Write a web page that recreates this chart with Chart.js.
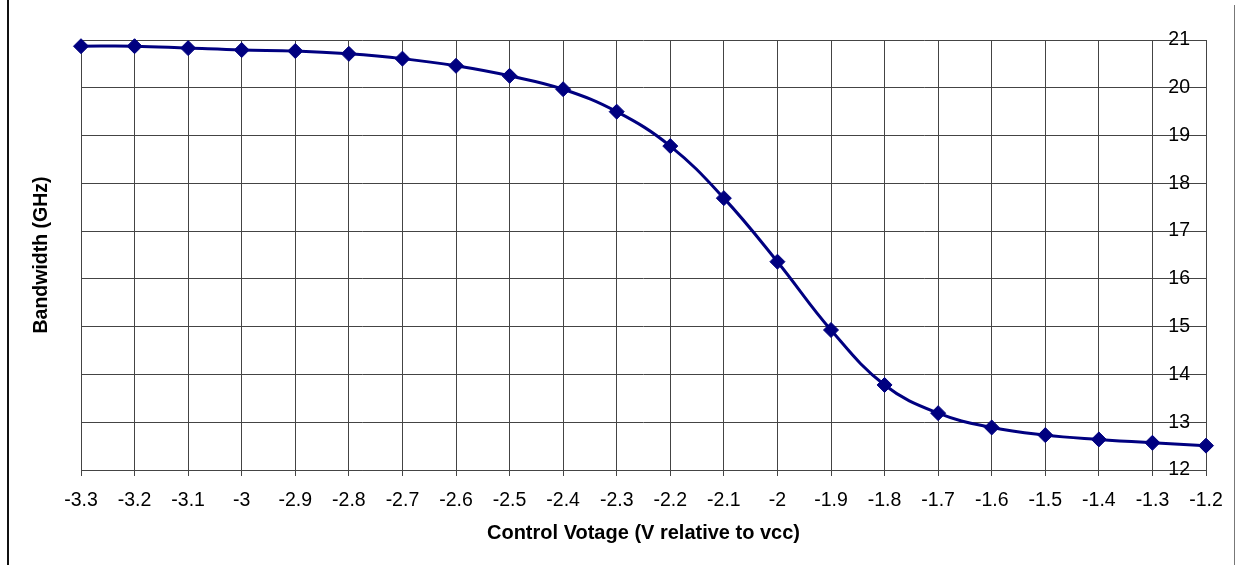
<!DOCTYPE html>
<html>
<head>
<meta charset="utf-8">
<script src="https://cdn.jsdelivr.net/npm/chart.js@4"></script>
<style>
    html, body { margin: 0; padding: 0; background: #fff; }
    #wrap { position: relative; width: 1236px; height: 565px; overflow: hidden; }
    #chart { position: absolute; left: 0; top: 0; }
    .edge-left { position: absolute; left: 7px; top: 0; width: 0; height: 565px; border-left: 2px solid #111; }
    .edge-right { position: absolute; left: 1234px; top: 5px; width: 0; height: 560px; border-left: 1px solid #777; }
</style>
</head>
<body>
<div id="wrap">
    <canvas id="chart" width="1236" height="565"></canvas>
    <div class="edge-left"></div>
    <div class="edge-right"></div>
</div>
<script>
// data
const voltages = ['-3.3', '-3.2', '-3.1', '-3', '-2.9', '-2.8', '-2.7', '-2.6', '-2.5', '-2.4', '-2.3',
                  '-2.2', '-2.1', '-2', '-1.9', '-1.8', '-1.7', '-1.6', '-1.5', '-1.4', '-1.3', '-1.2'];
const bandwidth = [20.87, 20.87, 20.83, 20.79, 20.77, 20.71, 20.61, 20.46, 20.25, 19.97, 19.5,
                   18.78, 17.69, 16.36, 14.93, 13.78, 13.19, 12.89, 12.73, 12.64, 12.57, 12.51];
const yMin = 12;
const yMax = 21;
const yStep = 1;

const FONT = "'Liberation Sans', Arial, sans-serif";
const NAVY = '#000080';
const GRID = '#444';

new Chart(document.getElementById('chart'), {
    type: 'line',
    data: {
        labels: voltages,
        datasets: [{
            label: 'Bandwidth',
            data: bandwidth,
            borderColor: NAVY,
            backgroundColor: NAVY,
            borderWidth: 3,
            tension: 0.4,
            pointStyle: 'rectRot',
            pointRadius: 7.5,
            pointBorderWidth: 1,
            pointBackgroundColor: NAVY,
            pointBorderColor: NAVY,
            clip: false,
        }],
    },
    options: {
        responsive: false,
        animation: false,
        layout: { padding: { left: 10, right: 30, top: 40, bottom: 15.6 } },
        plugins: {
            legend: { display: false },
            tooltip: { enabled: false },
        },
        scales: {
            x: {
                position: 'bottom',
                offset: false,
                grid: { color: GRID, lineWidth: 1, drawTicks: true, tickLength: 6, tickColor: GRID },
                border: { color: GRID, width: 1 },
                ticks: {
                    color: '#000',
                    padding: 12.5,
                    maxRotation: 0,
                    autoSkip: false,
                    font: { family: FONT, size: 19.5 },
                },
                title: {
                    display: true,
                    text: 'Control Votage (V relative to vcc)',
                    color: '#000',
                    font: { family: FONT, size: 20, weight: 'bold' },
                    padding: { top: -3, bottom: 4 },
                },
            },
            y: {
                position: 'right',
                min: yMin,
                max: yMax,
                grid: { color: GRID, lineWidth: 1, drawTicks: false },
                border: { color: GRID, width: 1 },
                ticks: {
                    stepSize: yStep,
                    mirror: true,
                    padding: -16,
                    color: '#000',
                    font: { family: FONT, size: 19.5 },
                },
            },
            yTitle: {
                position: 'left',
                min: yMin,
                max: yMax,
                grid: { display: false, drawOnChartArea: false, drawTicks: false },
                border: { display: false },
                ticks: { display: false },
                title: {
                    display: true,
                    text: 'Bandwidth (GHz)',
                    color: '#000',
                    font: { family: FONT, size: 19.5, weight: 'bold' },
                    padding: { top: 20.3, bottom: 27.3 },
                },
            },
        },
    },
});
</script>
</body>
</html>
